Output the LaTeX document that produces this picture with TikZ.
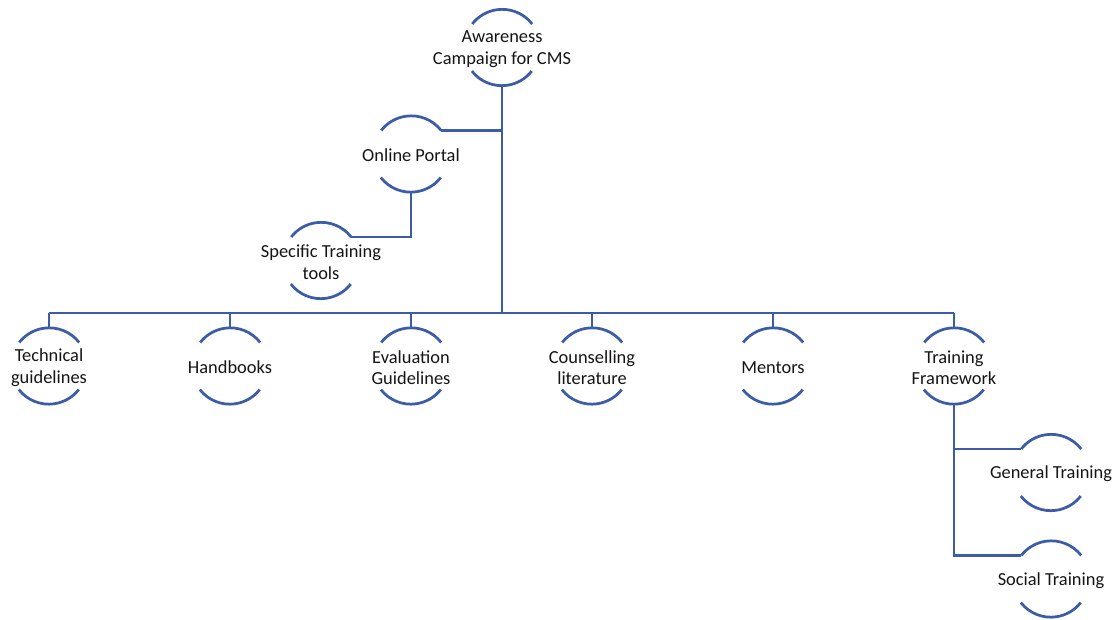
\documentclass[tikz,border=0pt]{standalone}
\usepackage{fontspec}
\setmainfont{Carlito}
\definecolor{lineblue}{RGB}{60,92,168}
\definecolor{txt}{RGB}{20,20,20}
\begin{document}
\begin{tikzpicture}[x=0.75pt,y=-0.75pt,
  ring/.style={circle,minimum size=57pt,inner sep=0pt},
  lbl/.style={align=center,text=txt,inner sep=0pt,yshift=-1.2pt,
    font=\fontsize{13.8pt}{16.2pt}\selectfont},
  link/.style={draw=lineblue,line width=2.05pt},
  arcline/.style={draw=lineblue,line width=2.05pt}]
\useasboundingbox (0,0) rectangle (1115,619);
\newcommand{\arcs}[1]{%
  \draw[arcline] (#1.38) arc[start angle=38,end angle=142,radius=28.5pt];
  \draw[arcline] (#1.218) arc[start angle=218,end angle=322,radius=28.5pt];}
\node[ring] (aw) at (502,47.5) {};
\node[ring] (op) at (411,154) {};
\node[ring] (st) at (321,260.5) {};
\node[ring] (tg) at (49,366) {};
\node[ring] (hb) at (230,366) {};
\node[ring] (eg) at (411,366) {};
\node[ring] (cl) at (592,366) {};
\node[ring] (me) at (773,366) {};
\node[ring] (tf) at (954,366) {};
\node[ring] (gt) at (1051,472.5) {};
\node[ring] (so) at (1051,579) {};
\node[lbl] (awt) at (aw) {Awareness\\Campaign for CMS};
\node[lbl] (opt) at (op) {Online Portal};
\node[lbl] (stt) at (st) {Specific Training\\tools};
\node[lbl] (tgt) at (tg) {Technical\\guidelines};
\node[lbl] (hbt) at (hb) {Handbooks};
\node[lbl] (egt) at (eg) {Evaluation\\Guidelines};
\node[lbl] (clt) at (cl) {Counselling\\literature};
\node[lbl] (met) at (me) {Mentors};
\node[lbl] (tft) at (tf) {Training\\Framework};
\node[lbl] (gtt) at (gt) {General Training};
\node[lbl] (sot) at (so) {Social Training};
\foreach \n in {aw,op,st,tg,hb,eg,cl,me,tf,gt,so} {\arcs{\n}}
\coordinate (bus) at (502,313);
% trunk
\draw[link] (aw.south) -- (aw.south |- bus);
\draw[link] (op.38) -- (op.38 -| aw.south);
\draw[link] (op.south) |- (st.38);
% bus
\draw[link] (tg.north |- bus) -- (tf.north |- bus);
\foreach \n in {tg,hb,eg,cl,me,tf} {\draw[link] (\n.north |- bus) -- (\n.north);}
% training framework children
\draw[link] (tf.south) |- (gt.142);
\draw[link] (tf.south) |- (so.142);
\end{tikzpicture}
\end{document}
